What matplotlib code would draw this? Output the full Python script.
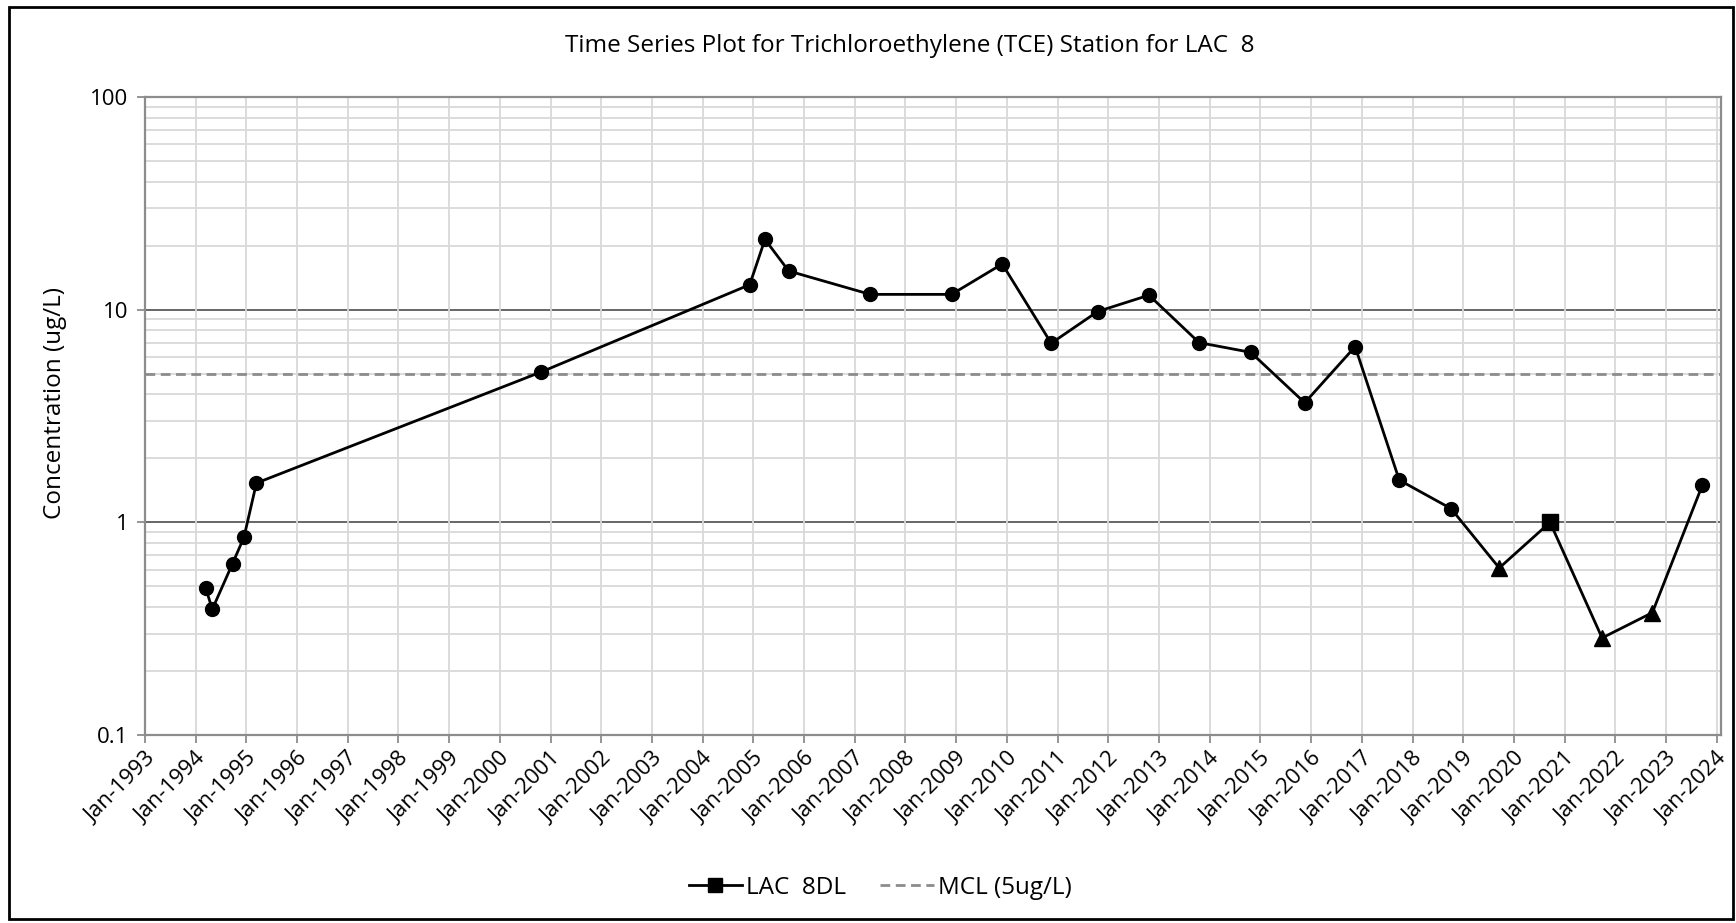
import numpy as np
import pandas as pd
import matplotlib.pyplot as plt
import matplotlib.dates as mdates
from matplotlib.lines import Line2D
from matplotlib.patches import Rectangle
from matplotlib.ticker import LogLocator, FixedLocator, NullFormatter

plt.rcParams['font.family'] = ['Open Sans', 'DejaVu Sans']

# TCE results for LAC 8 (ug/L); marker shape per sample
sample_dates = ['1994-03-15', '1994-05-01', '1994-09-24', '1994-12-15', '1995-03-15',
                '2000-10-27', '2004-12-05', '2005-03-25', '2005-09-12', '2007-04-22',
                '2008-11-28', '2009-11-28', '2010-11-16', '2011-10-16', '2012-10-20',
                '2013-10-16', '2014-10-23', '2015-11-16', '2016-11-13', '2017-09-27',
                '2018-10-05', '2019-09-17', '2020-09-17', '2021-09-27', '2022-09-24',
                '2023-09-20']
tce = [0.49, 0.39, 0.64, 0.85, 1.53,
       5.1, 13.1, 21.4, 15.2, 11.8,
       11.8, 16.4, 6.95, 9.8, 11.7,
       7.0, 6.3, 3.65, 6.7, 1.58,
       1.16, 0.61, 1.0, 0.286, 0.376,
       1.5]
marker_shape = ['o'] * 21 + ['^', 's', '^', '^', 'o']
mcl = 5.0

dates = pd.to_datetime(sample_dates)
x_start = pd.Timestamp('1993-01-01')
x_end = pd.Timestamp('2024-02-01')
year_ticks = pd.date_range('1993-01-01', '2024-01-01', freq='YS')

fig = plt.figure(figsize=(17.36, 9.23), dpi=100)
ax = fig.add_axes([0.0835, 0.2037, 0.9079, 0.6912])

ax.set_yscale('log')
ax.set_ylim(0.1, 100)
ax.set_xlim(x_start, x_end)

# grid: light verticals, light minor horizontals, dark decade lines
ax.xaxis.set_major_locator(FixedLocator(mdates.date2num(year_ticks)))
ax.xaxis.set_major_formatter(mdates.DateFormatter('%b-%Y'))
ax.yaxis.set_minor_locator(LogLocator(base=10, subs=np.arange(2, 10), numticks=20))
ax.yaxis.set_minor_formatter(NullFormatter())
ax.set_yticks([0.1, 1, 10, 100])
ax.set_yticklabels(['0.1', '1', '10', '100'])
ax.grid(axis='x', which='major', color='#d9d9d9', lw=1.3)
ax.grid(axis='y', which='minor', color='#d9d9d9', lw=1.3)
for v in [1, 10]:
    ax.axhline(v, color='#5a5a5a', lw=1.3, zorder=1)

mcl_style = dict(color='#8c8c8c', lw=2, ls=(0, (3.5, 2)))
ax.axhline(mcl, zorder=2, **mcl_style)
ax.plot(dates, tce, color='black', lw=2, zorder=3)
for m in ['o', '^', 's']:
    idx = [i for i, s in enumerate(marker_shape) if s == m]
    ax.plot(dates[idx], [tce[i] for i in idx], ls='none', marker=m,
            color='black', markersize=10 if m == 'o' else 11, zorder=4)

for s in ax.spines.values():
    s.set_color('#8c8c8c')
    s.set_linewidth(1.6)
ax.tick_params(axis='both', which='major', length=6, color='#8c8c8c', width=1.3,
               labelsize=16, labelcolor='black')
ax.tick_params(axis='y', which='major', pad=6)
ax.tick_params(axis='y', which='minor', length=0)
plt.setp(ax.get_xticklabels(), rotation=45, ha='right', rotation_mode='anchor')

ax.set_ylabel('Concentration (ug/L)', fontsize=17.5)
ax.yaxis.set_label_coords(-0.0497, 0.52)

fig.text(0.524, 0.950, 'Time Series Plot for Trichloroethylene (TCE) Station for LAC  8',
         ha='center', va='center', fontsize=17.5)

handles = [Line2D([], [], color='black', lw=2, marker='s', markersize=10),
           Line2D([], [], **mcl_style)]
fig.legend(handles, ['LAC  8DL', 'MCL (5ug/L)'], loc='center', bbox_to_anchor=(0.507, 0.038),
           ncol=2, frameon=False, fontsize=17.5, handlelength=2.2, handletextpad=0.17,
           columnspacing=1.4)

fig.patches.append(Rectangle((9 / 1736, 4 / 923), 1724 / 1736, 912 / 923,
                             transform=fig.transFigure, fill=False,
                             edgecolor='black', lw=2))

fig.savefig('out.png', dpi=100)
